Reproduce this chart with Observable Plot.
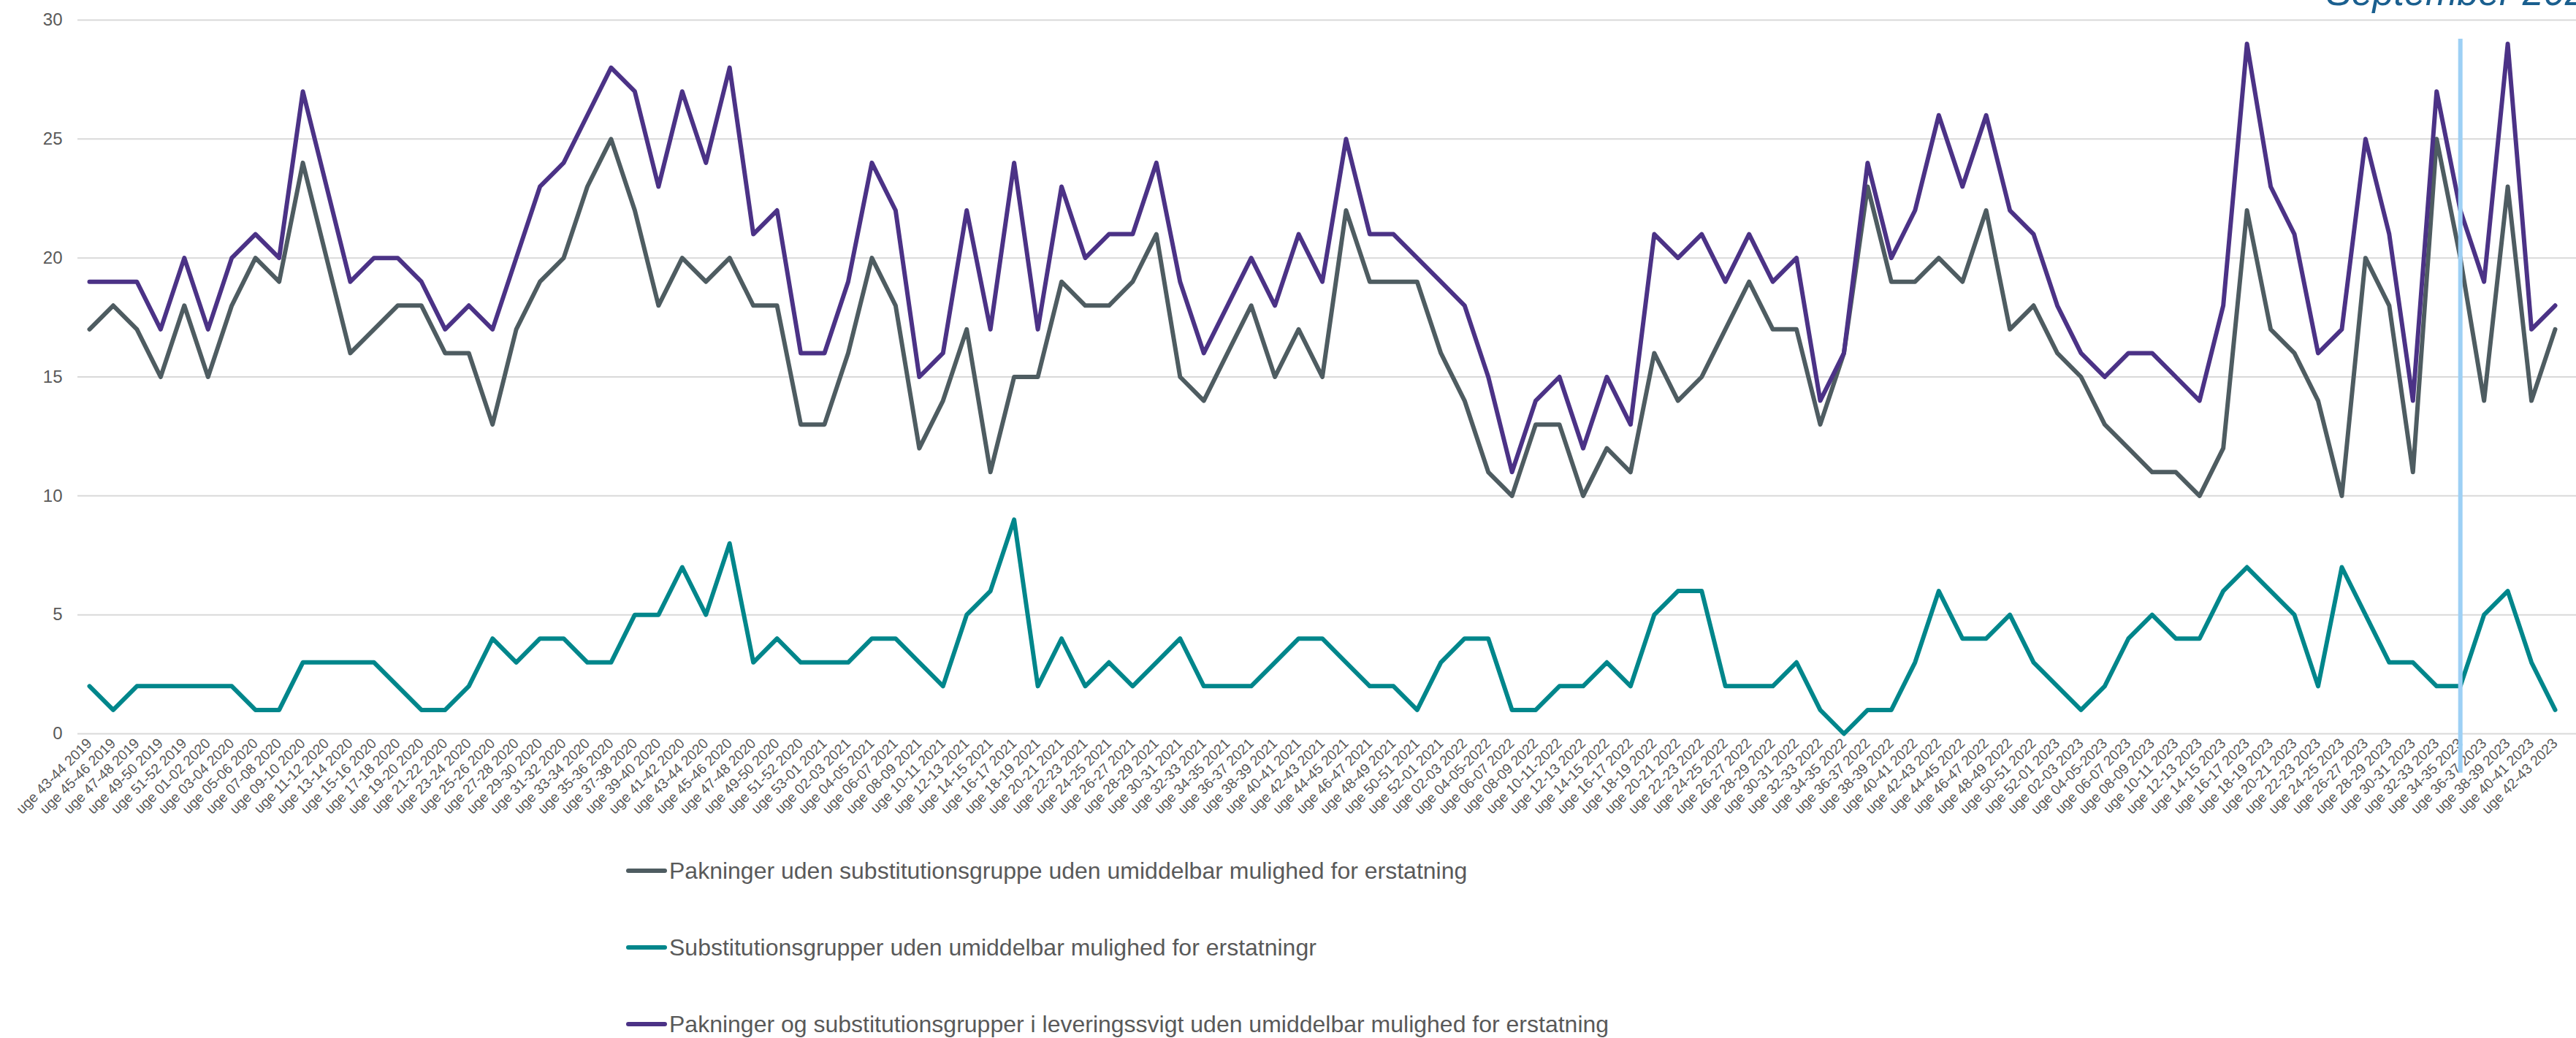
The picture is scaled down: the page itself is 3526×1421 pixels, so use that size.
<!DOCTYPE html>
<html><head><meta charset="utf-8">
<script src="https://cdn.jsdelivr.net/npm/d3@7"></script>
<script src="https://cdn.jsdelivr.net/npm/@observablehq/plot@0.6"></script>
<style>
body{margin:0;background:#fff;width:3526px;height:1421px;overflow:hidden;position:relative;font-family:"Liberation Sans",Arial,sans-serif}
#chart{position:absolute;left:0;top:0}
#title{position:absolute;left:3184px;top:-37px;font-size:52px;line-height:52px;font-style:italic;color:#1a5f8f;white-space:nowrap}
.leg{position:absolute;left:857px;height:40px;display:flex;align-items:center;font-size:32px;color:#595959;white-space:nowrap}
.sw{width:56px;height:6px;border-radius:3px;margin-right:3px}
</style></head><body>
<div id="chart"></div>
<div id="title">September 2023</div>
<div id="legend"></div>
<script>
const weeks = [
"uge 43-44 2019","uge 45-46 2019","uge 47-48 2019","uge 49-50 2019","uge 51-52 2019",
"uge 01-02 2020","uge 03-04 2020","uge 05-06 2020","uge 07-08 2020","uge 09-10 2020","uge 11-12 2020","uge 13-14 2020","uge 15-16 2020","uge 17-18 2020","uge 19-20 2020","uge 21-22 2020","uge 23-24 2020","uge 25-26 2020","uge 27-28 2020","uge 29-30 2020","uge 31-32 2020","uge 33-34 2020","uge 35-36 2020","uge 37-38 2020","uge 39-40 2020","uge 41-42 2020","uge 43-44 2020","uge 45-46 2020","uge 47-48 2020","uge 49-50 2020","uge 51-52 2020",
"uge 53-01 2021","uge 02-03 2021","uge 04-05 2021","uge 06-07 2021","uge 08-09 2021","uge 10-11 2021","uge 12-13 2021","uge 14-15 2021","uge 16-17 2021","uge 18-19 2021","uge 20-21 2021","uge 22-23 2021","uge 24-25 2021","uge 26-27 2021","uge 28-29 2021","uge 30-31 2021","uge 32-33 2021","uge 34-35 2021","uge 36-37 2021","uge 38-39 2021","uge 40-41 2021","uge 42-43 2021","uge 44-45 2021","uge 46-47 2021","uge 48-49 2021","uge 50-51 2021","uge 52-01 2021",
"uge 02-03 2022","uge 04-05-2022","uge 06-07 2022","uge 08-09 2022","uge 10-11-2022","uge 12-13 2022","uge 14-15 2022","uge 16-17 2022","uge 18-19 2022","uge 20-21 2022","uge 22-23 2022","uge 24-25 2022","uge 26-27 2022","uge 28-29 2022","uge 30-31 2022","uge 32-33 2022","uge 34-35 2022","uge 36-37 2022","uge 38-39 2022","uge 40-41 2022","uge 42-43 2022","uge 44-45 2022","uge 46-47 2022","uge 48-49 2022","uge 50-51 2022","uge 52-01 2023",
"uge 02-03 2023","uge 04-05-2023","uge 06-07 2023","uge 08-09 2023","uge 10-11 2023","uge 12-13 2023","uge 14-15 2023","uge 16-17 2023","uge 18-19 2023","uge 20-21 2023","uge 22-23 2023","uge 24-25 2023","uge 26-27 2023","uge 28-29 2023","uge 30-31 2023","uge 32-33 2023","uge 34-35 2023","uge 36-37 2023","uge 38-39 2023","uge 40-41 2023","uge 42-43 2023"
];

// Pakninger uden substitutionsgruppe uden umiddelbar mulighed for erstatning
const pakninger = [
17,18,17,15,18,15,18,20,19,24,20,16,17,18,18,16,16,13,17,19,20,
23,25,22,18,20,19,20,18,18,13,13,16,20,18,12,14,17,11,15,15,19,
18,18,19,21,15,14,16,18,15,17,15,22,19,19,19,16,14,11,10,13,13,
10,12,11,16,14,15,17,19,17,17,13,16,23,19,19,20,19,22,17,18,
16,15,13,12,11,11,10,12,22,17,16,14,10,20,18,11,25,20,14,23,14,17
];
// Substitutionsgrupper uden umiddelbar mulighed for erstatningr
const substitution = [
2,1,2,2,2,2,2,1,1,3,3,3,3,2,1,1,2,4,3,4,4,
3,3,5,5,7,5,8,3,4,3,3,3,4,4,3,2,5,6,9,2,4,
2,3,2,3,4,2,2,2,3,4,4,3,2,2,1,3,4,4,1,1,2,
2,3,2,5,6,6,2,2,2,3,1,0,1,1,3,6,4,4,5,3,
2,1,2,4,5,4,4,6,7,6,5,2,7,5,3,3,2,2,5,6,3,1
];
// Pakninger og substitutionsgrupper i leveringssvigt uden umiddelbar mulighed for erstatning
const leveringssvigt = [
19,19,19,17,20,17,20,21,20,27,23,19,20,20,19,17,18,17,20,23,24,
26,28,27,23,27,24,28,21,22,16,16,19,24,22,15,16,22,17,24,17,23,
20,21,21,24,19,16,18,20,18,21,19,25,21,21,20,19,18,15,11,14,15,
12,15,13,21,20,21,19,21,19,20,14,16,24,20,22,26,23,26,22,21,
18,16,15,16,16,15,14,18,29,23,21,16,17,25,21,14,27,22,19,29,17,18
];

const seriesNames = [
"Pakninger uden substitutionsgruppe uden umiddelbar mulighed for erstatning",
"Substitutionsgrupper uden umiddelbar mulighed for erstatningr",
"Pakninger og substitutionsgrupper i leveringssvigt uden umiddelbar mulighed for erstatning"
];
const seriesColors = ["#4e5c61", "#00868b", "#4b3286"];
const yTicks = [0, 5, 10, 15, 20, 25, 30];
const titleText = "September 2023";
const markerWeek = ["uge 34-35 2023"];
const markerSpan = [29.2, -1.65];

const seriesValues = [pakninger, substitution, leveringssvigt];
const rows = [];
seriesNames.forEach((name, s) => {
  weeks.forEach((w, i) => rows.push({week: w, value: seriesValues[s][i], series: name}));
});

const chart = Plot.plot({
  width: 3526,
  height: 1150,
  marginLeft: 106,
  marginRight: 0,
  marginTop: 27,
  marginBottom: 146,
  style: {fontFamily: "'Liberation Sans', Arial, sans-serif", background: "white", color: "#595959", overflow: "visible"},
  x: {type: "point", domain: weeks, padding: 0, insetLeft: 16, insetRight: 29, label: null},
  y: {domain: [0, 30], label: null},
  color: {domain: seriesNames, range: seriesColors},
  marks: [
    Plot.ruleY(yTicks, {stroke: "#d9d9d9", strokeWidth: 2}),
    Plot.axisY({ticks: yTicks, tickSize: 0, tickPadding: 21, fontSize: 24, label: null}),
    Plot.axisX({tickSize: 0, tickRotate: -45, tickPadding: 10, fontSize: 19.5, label: null}),
    Plot.line(rows, {x: "week", y: "value", z: "series", stroke: "series", strokeWidth: 6, strokeLinejoin: "round", strokeLinecap: "round"}),
    Plot.ruleX(markerWeek, {x: d => d, y1: () => markerSpan[0], y2: () => markerSpan[1], stroke: "#9dd0f5", strokeWidth: 6})
  ]
});
document.getElementById("chart").appendChild(chart);
document.getElementById("title").textContent = titleText;

const legend = d3.select("#legend");
const rowCenters = [1192, 1297, 1402];
seriesNames.forEach((name, i) => {
  const row = legend.append("div").attr("class", "leg").style("top", (rowCenters[i] - 20) + "px");
  row.append("div").attr("class", "sw").style("background", seriesColors[i]);
  row.append("span").text(name);
});
</script>
</body></html>
